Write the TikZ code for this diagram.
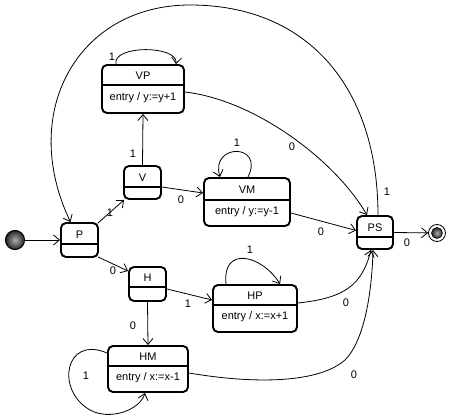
\documentclass[tikz,border=0pt]{standalone}
\usepackage{fontspec}
\setmainfont{Liberation Sans}
\usetikzlibrary{arrows.meta,calc}
\tikzset{
  stbox/.style={draw, line width=1.9pt, rounded corners=5pt, inner sep=0pt},
  divline/.style={line width=1.4pt},
  txt/.style={font=\fontsize{11}{13}\selectfont, inner sep=0pt},
  lab/.style={font=\fontsize{11}{13}\selectfont, inner sep=0pt},
  conn/.style={line width=0.8pt, -{Straight Barb[length=6pt,width=10pt]}},
  pseudo/.style={circle, inner sep=0pt, draw, inner color=gray!65, outer color=gray!30!black},
}
% name, cx, cy, w, h, divider offset, title
\newcommand{\stplain}[7]{%
  \node[stbox, minimum width=#4pt, minimum height=#5pt] (#1) at (#2,#3) {};
  \draw[divline] ($(#1.north west)+(0,#6)$) -- ($(#1.north east)+(0,#6)$);
  \node[txt] (#1t) at ($(#1.north)+(0,#6/2+1.5)$) {#7};
}
% name, cx, cy, w, h, divider offset, title, entry
\newcommand{\stentry}[8]{%
  \stplain{#1}{#2}{#3}{#4}{#5}{#6}{#7}
  \node[txt] (#1e) at ($(#1.north)+(0,{(#6+#5)/2-1})$) {#8};
}
\begin{document}
\begin{tikzpicture}[x=1pt,y=-1pt]
\useasboundingbox (0,0) rectangle (451,420);
% states
\stentry{VP}{143}{89}{82}{48}{21}{VP}{entry / y:=y+1}
\stplain{V}{142.5}{182.5}{37}{33}{22}{V}
\stentry{VM}{247}{202}{86}{48}{23}{VM}{entry / y:=y-1}
\stplain{P}{79.5}{240}{37}{34}{22}{P}
\stplain{PS}{375}{232.5}{36}{33}{22}{PS}
\stplain{H}{147.5}{284}{37}{34}{21}{H}
\stentry{HP}{255}{308.5}{84}{47}{21}{HP}{entry / x:=x+1}
\stentry{HM}{148}{369}{80}{46}{21}{HM}{entry / x:=x-1}
% pseudo states
\node[pseudo, minimum size=19pt, line width=1.1pt] (init) at (15,240) {};
\node[circle, minimum size=17pt, inner sep=0pt, draw, line width=0.8pt] (fin) at (437,233) {};
\node[pseudo, minimum size=11pt, line width=0.6pt] (finin) at (fin) {};
% transitions
\draw[conn] (init) -- (P);
\draw[conn] ($(P.north east)+(-1,1)$) -- ($(V.south west)+(1,0)$)
  node[lab] at (110,213) {1};
\draw[conn] ($(P.south east)+(-1,-1)$) -- ($(H.west)+(0,-13)$)
  node[lab] at (113,271) {0};
\draw[conn] (V.north) -- (VP.south)
  node[lab] at (133,154) {1};
\draw[conn] ($(V.east)+(0,4.5)$) -- ($(VM.west)+(0,-9)$)
  node[lab] at (181,200) {0};
\draw[conn] ($(VM.east)+(0,11)$) -- ($(PS.west)+(0,-2)$)
  node[lab] at (321,232) {0};
\draw[conn] ($(VP.east)+(0,3)$) .. controls (255,100) and (335,160) .. ($(PS.north)+(-8,0)$)
  node[lab] at (292,147) {0};
\draw[conn] ($(PS.north)+(3,0)$) .. controls (378,90) and (310,5) .. (190,5)
  .. controls (78,5) and (18,112) .. ($(P.north)+(-9,0)$)
  node[lab] at (387,192) {1};
\draw[conn] (PS.east) -- (fin)
  node[lab] at (407,243) {0};
\draw[conn] ($(H.east)+(0,5)$) -- ($(HP.west)+(0,-8.5)$)
  node[lab] at (188,304) {1};
\draw[conn] (H.south) -- (HM.north)
  node[lab] at (133,326) {0};
\draw[conn] ($(HP.east)+(0,-5.5)$) .. controls (345,298) and (362,285) .. ($(PS.south)+(-4,0)$)
  node[lab] at (346,303) {0};
\draw[conn] ($(HM.east)+(0,4)$) .. controls (260,385) and (320,382) .. (345,360)
  .. controls (365,340) and (372,290) .. ($(PS.south)+(-2,0)$)
  node[lab] at (354,375) {0};
% self loops
\draw[conn] ($(VP.north)+(-27,0)$) .. controls (112,45) and (178,45) .. ($(VP.north)+(33,0)$)
  node[lab] at (112,57) {1};
\draw[conn] ($(VM.north)+(1,0)$) .. controls (265,143) and (210,143) .. ($(VM.north)+(-27,0)$)
  node[lab] at (237,143) {1};
\draw[conn] ($(HP.north)+(-29,0)$) .. controls (222,245) and (262,255) .. ($(HP.north)+(25,0)$)
  node[lab] at (250,250) {1};
\draw[conn] ($(HM.west)+(0,-16)$) .. controls (65,335) and (55,390) .. (90,410)
  .. controls (110,421) and (140,410) .. ($(HM.south)+(-3,0)$)
  node[lab] at (86,376) {1};
\end{tikzpicture}
\end{document}
